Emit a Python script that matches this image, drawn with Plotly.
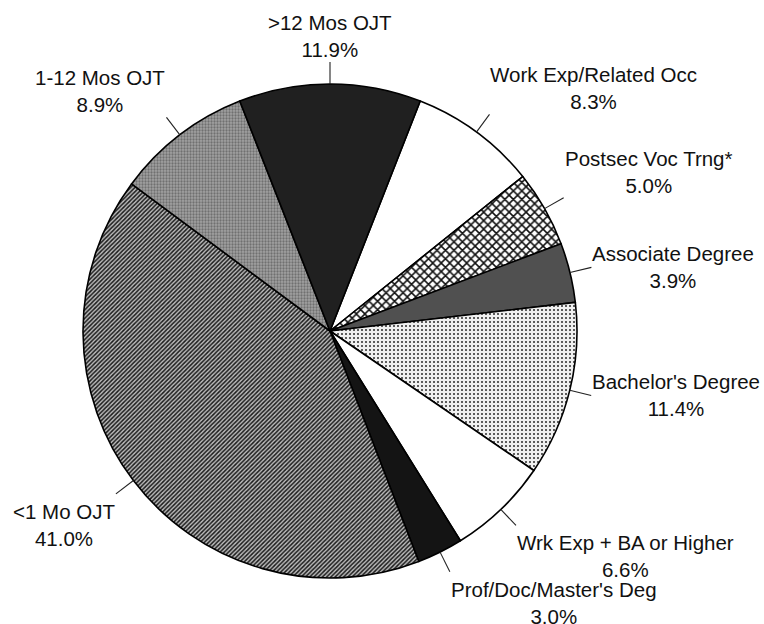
import math
import plotly.graph_objects as go

# ---- data (clockwise from the first slice) ----
categories = [
    "Work Exp/Related Occ",
    "Postsec Voc Trng*",
    "Associate Degree",
    "Bachelor's Degree",
    "Wrk Exp + BA or Higher",
    "Prof/Doc/Master's Deg",
    "<1 Mo OJT",
    "1-12 Mos OJT",
    ">12 Mos OJT",
]
values = [8.3, 5.0, 3.9, 11.4, 6.6, 3.0, 41.0, 8.9, 11.9]

# ---- styles ----
fill_colors = ["#ffffff", "#ffffff", "#505050", "#f0f0f0", "#ffffff",
               "#141414", "#bdbdbd", "#a2a2a2", "#202020"]
pattern_shapes = ["", "x", "", ".", "", "", "/", ".", ""]
pattern_fg = ["#000000", "#111111", "#000000", "#2a2a2a", "#000000",
              "#000000", "#1a1a1a", "#707070", "#000000"]
pattern_size = [8, 6, 8, 4, 8, 8, 3, 3, 8]
pattern_solidity = [0.3, 0.45, 0.3, 0.2, 0.3, 0.3, 0.5, 0.45, 0.3]

W, H = 764, 624
CX, CY, R = 330, 331, 247          # pie centre / radius in pixels
LEAD = 22                          # leader line length in pixels
TOP_GAP = 5                        # extra gap below leader for labels under the pie
FONT = dict(family="Liberation Sans, Arial, sans-serif", size=20.5, color="#111111")

total = sum(values)
# the last slice (>12 Mos OJT) is centred at 12 o'clock
rotation = 360.0 * (values[-1] / 2.0) / total

fig = go.Figure(go.Pie(
    labels=categories,
    values=values,
    sort=False,
    direction="clockwise",
    rotation=rotation,
    textinfo="none",
    hoverinfo="label+percent",
    showlegend=False,
    domain=dict(x=[(CX - R) / W, (CX + R) / W],
                y=[1 - (CY + R) / H, 1 - (CY - R) / H]),
    marker=dict(
        colors=fill_colors,
        line=dict(color="#000000", width=1.6),
        pattern=dict(
            shape=pattern_shapes,
            fgcolor=pattern_fg,
            bgcolor=fill_colors,
            size=pattern_size,
            solidity=pattern_solidity,
            fillmode="replace",
        ),
    ),
))

def px2paper(x, y):
    return x / W, 1 - y / H

shapes, annotations = [], []
cum = 0.0
for cat, v in zip(categories, values):
    mid = rotation + 360.0 * (cum + v / 2.0) / total
    cum += v
    a = math.radians(mid)
    s, c = math.sin(a), math.cos(a)
    x0, y0 = CX + R * s, CY - R * c
    x1, y1 = CX + (R + LEAD) * s, CY - (R + LEAD) * c
    px0, py0 = px2paper(x0, y0)
    px1, py1 = px2paper(x1, y1)
    shapes.append(dict(type="line", xref="paper", yref="paper",
                       x0=px0, y0=py0, x1=px1, y1=py1,
                       line=dict(color="#222222", width=1.1)))
    xa = "center" if abs(s) < 0.2 else ("left" if s > 0 else "right")
    ya = "bottom" if c > 0.4 else ("top" if c < -0.4 else "middle")
    annotations.append(dict(
        xref="paper", yref="paper", x=px1, y=py1,
        xanchor=xa, yanchor=ya, align="center", showarrow=False,
        yshift=-TOP_GAP if ya == "top" else 0,
        text=f"{cat}<br>{v:.1f}%", font=FONT, borderpad=0,
    ))

fig.update_layout(
    width=W, height=H,
    margin=dict(l=0, r=0, t=0, b=0),
    paper_bgcolor="#ffffff",
    plot_bgcolor="#ffffff",
    shapes=shapes,
    annotations=annotations,
)

fig.write_html(
    "out.html",
    config={"displayModeBar": False},
    post_script="document.body.style.margin='0px';document.body.style.overflow='hidden';",
)
